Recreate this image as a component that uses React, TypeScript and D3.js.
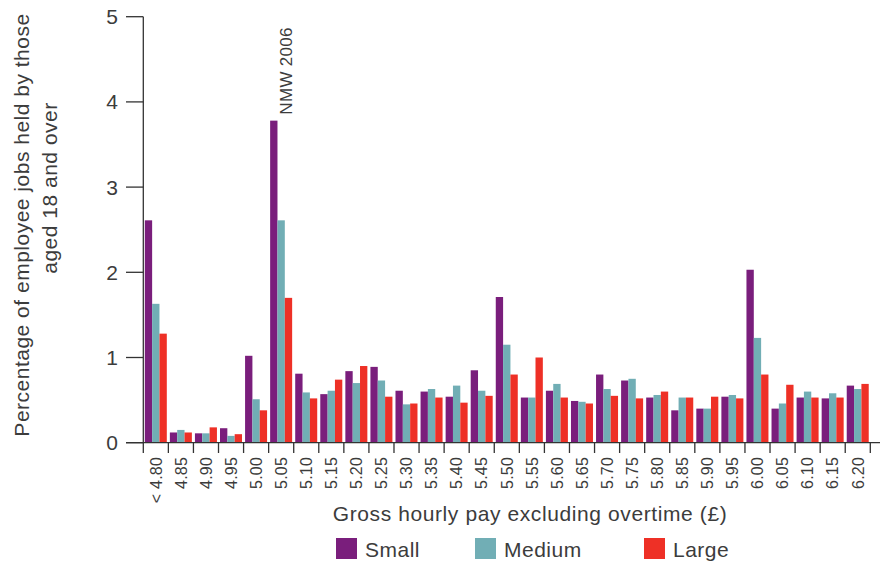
import React from "react";
import * as d3 from "d3";

const categories = ["< 4.80","4.85","4.90","4.95","5.00","5.05","5.10","5.15","5.20","5.25","5.30","5.35","5.40","5.45","5.50","5.55","5.60","5.65","5.70","5.75","5.80","5.85","5.90","5.95","6.00","6.05","6.10","6.15","6.20"];
const small = [2.61,0.12,0.11,0.17,1.02,3.78,0.81,0.57,0.84,0.89,0.61,0.60,0.54,0.85,1.71,0.53,0.61,0.49,0.80,0.73,0.53,0.38,0.40,0.54,2.03,0.40,0.53,0.52,0.67];
const medium = [1.63,0.15,0.11,0.08,0.51,2.61,0.59,0.61,0.70,0.73,0.45,0.63,0.67,0.61,1.15,0.53,0.69,0.48,0.63,0.75,0.56,0.53,0.40,0.56,1.23,0.46,0.60,0.58,0.63];
const large = [1.28,0.12,0.18,0.10,0.38,1.70,0.52,0.74,0.90,0.54,0.46,0.53,0.47,0.55,0.80,1.00,0.53,0.46,0.55,0.52,0.60,0.53,0.54,0.52,0.80,0.68,0.53,0.53,0.69];
const seriesNames = ["Small","Medium","Large"];
const colors = ["#7a1e7c","#71aeb5","#ee3026"];
const yTicks = [0,1,2,3,4,5];
const annotation = { category: "5.05", text: "NMW 2006" };

const FONT = "'Liberation Sans', Arial, sans-serif";
const TXT = "#3c3c3c";

export default function App() {
  const W = 888, H = 563;
  const x0 = 143.3, x1 = 870.3, yTop = 16.7, yBot = 442.7;
  const x = d3.scaleBand<string>().domain(categories).range([x0, x1]).padding(0);
  const bw = x.bandwidth();
  const xi = d3.scaleBand<string>().domain(seriesNames).range([1.5, 23.5]).padding(0);
  const y = d3.scaleLinear().domain([0, 5]).range([yBot, yTop]);
  const data = [small, medium, large];
  const boundaries = d3.range(categories.length + 1).map(i => x0 + i * bw);
  const annX = (x(annotation.category) as number);
  const annIdx = categories.indexOf(annotation.category);

  return (
    <div style={{ position: "absolute", left: 0, top: 0 }}>
      <svg width={W} height={H} style={{ display: "block", background: "#fff" }} fontFamily={FONT}>
        {data.map((vals, s) => (
          <g key={s} fill={colors[s]}>
            {vals.map((v, i) => (
              <rect key={i}
                x={(x(categories[i]) as number) + (xi(seriesNames[s]) as number)}
                y={y(v)}
                width={xi.bandwidth()}
                height={yBot - y(v)} />
            ))}
          </g>
        ))}
        <line x1={x0} x2={x0} y1={yTop} y2={yBot} stroke="#333" strokeWidth={1.3} />
        {yTicks.map(t => (
          <g key={t}>
            <line x1={126} x2={x0} y1={y(t)} y2={y(t)} stroke="#333" strokeWidth={1.3} />
            <text x={118} y={y(t)} dy="0.36em" textAnchor="end" fontSize={21} fill={TXT}>{t}</text>
          </g>
        ))}
        <line x1={126} x2={880} y1={yBot} y2={yBot} stroke="#333" strokeWidth={1.3} />
        {boundaries.map((b, i) => (
          <line key={i} x1={b} x2={b} y1={yBot} y2={453} stroke="#333" strokeWidth={1.3} />
        ))}
        {categories.map(c => {
          const cx = (x(c) as number) + bw / 2;
          return (
            <text key={c} transform={`translate(${cx},457) rotate(-90)`} textAnchor="end" dy="0.36em" fontSize={16} letterSpacing={0.2} fill={TXT}>{c}</text>
          );
        })}
        <text transform={`translate(${annX + bw / 2 + 11},${y(small[annIdx]) - 6}) rotate(-90)`} textAnchor="start" fontSize={17} letterSpacing={0.3} fill={TXT}>{annotation.text}</text>
        <text transform="translate(29,225) rotate(-90)" textAnchor="middle" fontSize={21} letterSpacing={0.5} fill={TXT}>Percentage of employee jobs held by those</text>
        <text transform="translate(57,188) rotate(-90)" textAnchor="middle" fontSize={21} letterSpacing={0.5} fill={TXT}>aged 18 and over</text>
        <text x={530} y={521} textAnchor="middle" fontSize={21} letterSpacing={0.6} fill={TXT}>Gross hourly pay excluding overtime (£)</text>
        {seriesNames.map((n, i) => {
          const lx = [336, 475, 644][i];
          return (
            <g key={n}>
              <rect x={lx} y={538} width={21} height={21} fill={colors[i]} />
              <text x={lx + 29} y={557} fontSize={21} letterSpacing={0.5} fill={TXT}>{n}</text>
            </g>
          );
        })}
      </svg>
    </div>
  );
}
